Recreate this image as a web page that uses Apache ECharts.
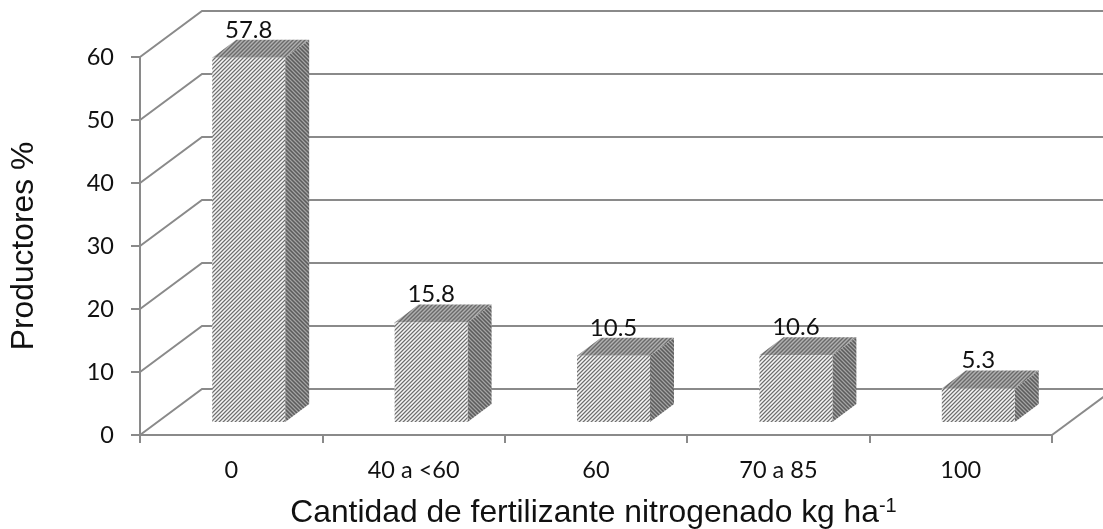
<!DOCTYPE html>
<html>
<head>
<meta charset="utf-8">
<style>html,body{margin:0;padding:0;background:#fff}#c{width:1103px;height:529px}</style>
<script src="https://cdn.jsdelivr.net/npm/echarts@6/dist/echarts.min.js"></script>
</head>
<body>
<div id="c"></div>
<script>
var categories = ['0', '40 a <60', '60', '70 a 85', '100'];
var values = [57.8, 15.8, 10.5, 10.6, 5.3];
var yTicks = [0, 10, 20, 30, 40, 50, 60];
var lineColor = '#8a8a8a';
var wall = [62, -46];
var barDepth = [24, -18];
var barInset = [17.5, -13];

function hatch(cols, back) {
  var n = cols.length, cv = document.createElement('canvas');
  cv.width = n; cv.height = n;
  var g = cv.getContext('2d');
  for (var x = 0; x < n; x++) for (var y = 0; y < n; y++) {
    g.fillStyle = cols[(back ? (x - y + n) : (x + y)) % n];
    g.fillRect(x, y, 1, 1);
  }
  return { image: cv, repeat: 'repeat' };
}
var frontFill = hatch(['#707070', '#b4b4b4', '#f6f6f6', '#cccccc']);
var topFill = hatch(['#6a6a6a', '#8e8e8e', '#b0b0b0', '#8e8e8e']);
var sideFill = hatch(['#5c5c5c', '#7a7a7a', '#a4a4a4', '#7a7a7a'], true);

function renderWalls(params, api) {
  var cs = params.coordSys;
  var y = api.coord([0, api.value(0)])[1];
  return {
    type: 'polyline',
    shape: { points: [[cs.x, y], [cs.x + wall[0], y + wall[1]], [1103, y + wall[1]]] },
    style: { fill: null, stroke: lineColor, lineWidth: 2 }
  };
}
function renderFloor(params, api) {
  var cs = params.coordSys, b = cs.y + cs.height, r = cs.x + cs.width;
  return {
    type: 'line',
    shape: { x1: r, y1: b, x2: r + wall[0], y2: b + wall[1] },
    style: { stroke: lineColor, lineWidth: 2 }
  };
}
function renderBar(params, api) {
  var i = api.value(0), v = api.value(1);
  var base = api.coord([i, 0]), top = api.coord([i, v]);
  var w = api.size([1, 0])[0] * 0.4;
  var l = base[0] - w / 2 + barInset[0], r = l + w;
  var yb = base[1] + barInset[1], yt = top[1] + barInset[1];
  var dx = barDepth[0], dy = barDepth[1];
  return {
    type: 'group',
    children: [
      { type: 'polygon', shape: { points: [[l, yt], [r, yt], [r + dx, yt + dy], [l + dx, yt + dy]] }, style: { fill: topFill } },
      { type: 'polygon', shape: { points: [[r, yt], [r + dx, yt + dy], [r + dx, yb + dy], [r, yb]] }, style: { fill: sideFill } },
      { type: 'rect', shape: { x: l, y: yt, width: w, height: yb - yt }, style: { fill: frontFill } },
      { type: 'text', x: (l + r) / 2, y: yt + dy + 2, z2: 10,
        style: { text: String(v), fill: '#111', font: '24px Lato', align: 'center', verticalAlign: 'bottom' } }
    ]
  };
}

var chart = echarts.init(document.getElementById('c'), null, { renderer: 'canvas' });
chart.setOption({
  animation: false,
  backgroundColor: '#fff',
  grid: { left: 140, right: 51, top: 57, bottom: 94, outerBoundsMode: 'none' },
  xAxis: {
    type: 'category', data: categories, offset: 1,
    axisLine: { lineStyle: { color: lineColor, width: 2 } },
    axisTick: { show: true, length: 8, lineStyle: { color: lineColor, width: 2 } },
    axisLabel: { color: '#111', fontFamily: 'Lato', fontSize: 23.5, margin: 22, interval: 0 },
    name: '{a|Cantidad de fertilizante nitrogenado kg ha}{s|-1}',
    nameLocation: 'middle', nameGap: 60,
    nameTextStyle: { padding: [0, 5, 0, 0], rich: {
      a: { fontFamily: 'Liberation Sans', fontSize: 31.8, color: '#111' },
      s: { fontFamily: 'Liberation Sans', fontSize: 20, color: '#111', padding: [0, 0, 14, 0] }
    } }
  },
  yAxis: {
    type: 'value', min: 0, max: 60, interval: 10,
    splitLine: { show: false },
    axisLine: { show: true, lineStyle: { color: lineColor, width: 2 } },
    axisTick: { show: true, length: 9, lineStyle: { color: lineColor, width: 2 } },
    axisLabel: { color: '#111', fontFamily: 'Lato', fontSize: 23.5, margin: 26 },
    name: 'Productores %', nameLocation: 'middle', nameGap: 100, nameRotate: 90,
    nameTextStyle: { fontFamily: 'Liberation Sans', fontSize: 31.8, color: '#111' }
  },
  series: [
    { type: 'custom', renderItem: renderWalls, data: yTicks.map(function (t) { return [t]; }), encode: { y: 0 }, silent: true, z: 1 },
    { type: 'custom', renderItem: renderFloor, data: [[0]], silent: true, z: 1 },
    { type: 'custom', renderItem: renderBar, data: values.map(function (v, i) { return [i, v]; }), encode: { x: 0, y: 1 }, z: 3 }
  ]
});
</script>
</body>
</html>
